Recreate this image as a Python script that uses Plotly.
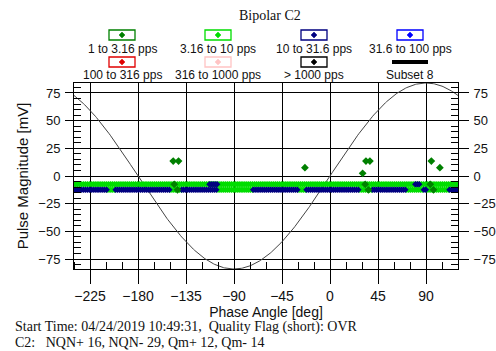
import numpy as np
import plotly.graph_objects as go

# ---------------- data ----------------
TITLE = "Bipolar C2"
X_TICKS = [-225, -180, -135, -90, -45, 0, 45, 90]
Y_TICKS = [-75, -50, -25, 0, 25, 50, 75]
X_RANGE = [-240, 120]
Y_RANGE = [-84, 84]
SINE_AMPLITUDE = 84          # reference sine amplitude [mV]
PHASE_STEP = 1.8             # phase bin width [deg]

# band rows [mV]
ROW_A = -7.5
ROW_B = -12.5

# phase segments (deg) occupied by each series on each band row
LIGHT_GREEN_ROW_A = [(-240, 120)]
LIGHT_GREEN_ROW_B = [(-209, -202), (-150, -140), (-105, -73), (-30, -23),
                     (28, 39), (72, 87), (91, 111)]
NAVY_ROW_B = [(-240, -210), (-201, -151), (-139, -106), (-72, -31),
              (-22, 27), (40, 71), (88, 90), (112, 120)]
NAVY_ROW_A = [(-113, -106), (80, 83)]

# isolated 1 to 3.16 pps pulses
DKGREEN_X = [-147, -142, -23.5, 30.6, 33.7, 37.4, 95, 103, -146, -143, 33, 36, 94, 97]
DKGREEN_Y = [13.5, 13.5, 7.5, 2.4, 13.5, 13.5, 13.5, 7.5, -7.5, -12.5, -7.5, -12.5, -7.5, -12.5]

LEGEND_LABELS = ["1 to 3.16 pps", "3.16 to 10 pps", "10 to 31.6 pps", "31.6 to 100 pps",
                 "100 to 316 pps", "316 to 1000 pps", "> 1000 pps", "Subset 8"]
LEGEND_COLORS = ["#008000", "#00dd00", "#000080", "#0000ff",
                 "#e00000", "#ffc4c4", "#000000", "#000000"]

FOOT1 = "Start Time: 04/24/2019 10:49:31,  Quality Flag (short): OVR"
FOOT2 = "C2:   NQN+ 16, NQN- 29, Qm+ 12, Qm- 14"


def expand(segments, y):
    xs, ys = [], []
    for a, b in segments:
        n = int(round((b - a) / PHASE_STEP)) + 1
        for i in range(n):
            xs.append(a + i * PHASE_STEP)
            ys.append(y)
    return xs, ys


# ---------------- figure ----------------
W, H = 496, 351
L, R, T, B = 74, 458, 83, 269


def px(x):
    return (x - L) / (R - L)


def py(y):
    return (B - y) / (B - T)


fig = go.Figure()

# reference sine
sx = np.linspace(X_RANGE[0], X_RANGE[1], 361)
fig.add_trace(go.Scatter(x=sx, y=SINE_AMPLITUDE * np.sin(np.radians(sx)), mode="lines",
                         line=dict(color="#444444", width=1), hoverinfo="skip"))

mk = dict(symbol="diamond", size=5, line=dict(width=0))

lgx, lgy = expand(LIGHT_GREEN_ROW_A, ROW_A)
x2, y2 = expand(LIGHT_GREEN_ROW_B, ROW_B)
fig.add_trace(go.Scatter(x=lgx + x2, y=lgy + y2, mode="markers",
                         marker=dict(color=LEGEND_COLORS[1], **mk)))
nx, ny = expand(NAVY_ROW_B, ROW_B)
x2, y2 = expand(NAVY_ROW_A, ROW_A)
fig.add_trace(go.Scatter(x=nx + x2, y=ny + y2, mode="markers",
                         marker=dict(color=LEGEND_COLORS[2], **mk)))
fig.add_trace(go.Scatter(x=DKGREEN_X, y=DKGREEN_Y, mode="markers",
                         marker=dict(color=LEGEND_COLORS[0], symbol="diamond", size=6,
                                     line=dict(width=0))))
# dummy trace for right axis
fig.add_trace(go.Scatter(x=[X_RANGE[0]], y=[0], yaxis="y2", mode="markers",
                         marker=dict(opacity=0), hoverinfo="skip"))

fig.update_layout(
    width=W, height=H,
    margin=dict(l=L, r=W - R, t=T, b=H - B, autoexpand=False),
    paper_bgcolor="white", plot_bgcolor="white",
    showlegend=False,
    xaxis=dict(range=X_RANGE, tickvals=X_TICKS, ticks="outside", ticklen=14,
               tickcolor="black", showline=True, linecolor="black", linewidth=1,
               mirror=True, showgrid=True, gridcolor="black", gridwidth=1,
               zeroline=False, automargin=False,
               tickfont=dict(family="Liberation Sans, Arial", size=14, color="#111"),
               minor=dict(dtick=15, tick0=0, ticks="inside", ticklen=7, tickcolor="black", showgrid=False),
               title=dict(text="Phase Angle [deg]",
                          font=dict(family="Liberation Sans, Arial", size=14, color="#111"),
                          standoff=0)),
    yaxis=dict(range=Y_RANGE, tickvals=Y_TICKS, ticks="outside", ticklen=8,
               tickcolor="black", showline=True, linecolor="black", linewidth=1,
               showgrid=True, gridcolor="black", gridwidth=1, zeroline=False,
               automargin=False,
               tickfont=dict(family="Liberation Sans, Arial", size=13, color="#111"),
               ticklabelstandoff=2,
               minor=dict(dtick=5, tick0=0, ticks="inside", ticklen=7, tickcolor="black", showgrid=False),
               title=dict(text="Pulse Magnitude [mV]",
                          font=dict(family="Liberation Sans, Arial", size=15, color="#111"),
                          standoff=6)),
    yaxis2=dict(range=Y_RANGE, tickvals=Y_TICKS, ticks="outside", ticklen=10,
                overlaying="y", side="right", tickcolor="black", showline=True,
                linecolor="black", linewidth=1, showgrid=False, zeroline=False,
                automargin=False,
                tickfont=dict(family="Liberation Sans, Arial", size=13, color="#111"),
                ticklabelstandoff=2,
                minor=dict(dtick=5, tick0=0, ticks="inside", ticklen=7, tickcolor="black")),
)

# title
fig.add_annotation(text=TITLE, xref="paper", yref="paper", x=px(270), y=py(15),
                   showarrow=False, xanchor="center", yanchor="middle",
                   font=dict(family="Liberation Serif, Times New Roman", size=14, color="#111"))

# legend
col_x = [122, 218, 314, 410]
box_y = [35, 62]
lab_y = [49, 75]
for i, (lab, col) in enumerate(zip(LEGEND_LABELS, LEGEND_COLORS)):
    cx = col_x[i % 4]
    by = box_y[i // 4]
    ly = lab_y[i // 4]
    if lab == "Subset 8":
        fig.add_shape(type="line", xref="paper", yref="paper",
                      x0=px(cx - 18), x1=px(cx + 18), y0=py(by), y1=py(by),
                      line=dict(color="black", width=4))
    else:
        fig.add_shape(type="rect", xref="paper", yref="paper",
                      x0=px(cx - 13), x1=px(cx + 13), y0=py(by + 5), y1=py(by - 5),
                      line=dict(color=col, width=1.3), fillcolor="white")
        r = 3
        path = (f"M {px(cx)} {py(by - r)} L {px(cx + r)} {py(by)} "
                f"L {px(cx)} {py(by + r)} L {px(cx - r)} {py(by)} Z")
        fig.add_shape(type="path", xref="paper", yref="paper", path=path,
                      fillcolor=col, line=dict(color=col, width=0.5))
    fig.add_annotation(text=lab, xref="paper", yref="paper", x=px(cx), y=py(ly),
                       showarrow=False, xanchor="center", yanchor="middle",
                       font=dict(family="Liberation Sans, Arial", size=12, color="#111"))

# footer
fig.add_annotation(text=FOOT1, xref="paper", yref="paper", x=px(13), y=py(327),
                   showarrow=False, xanchor="left", yanchor="middle",
                   font=dict(family="Liberation Serif, Times New Roman", size=14, color="#111"))
fig.add_annotation(text=FOOT2, xref="paper", yref="paper", x=px(13), y=py(342),
                   showarrow=False, xanchor="left", yanchor="middle",
                   font=dict(family="Liberation Serif, Times New Roman", size=14, color="#111"))

fig.write_html("out.html")
